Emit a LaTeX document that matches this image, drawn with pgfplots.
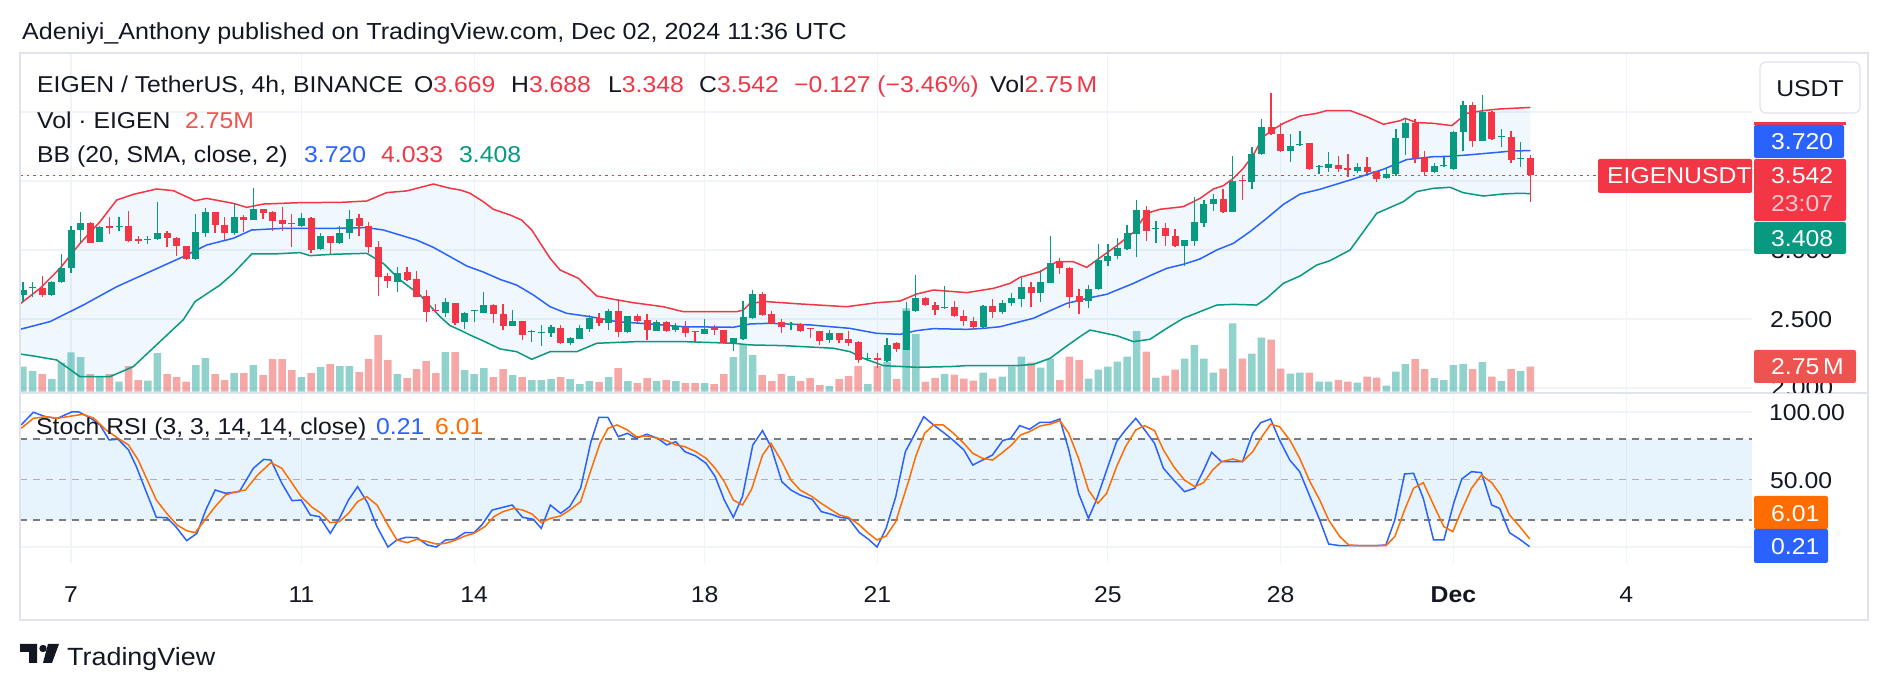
\documentclass[border=0pt]{standalone}
\usepackage{pgfplots}
\pgfplotsset{compat=1.18}
\usepackage{pgfplotstable}
\usepackage{fontspec}
\setmainfont{Liberation Sans}[FakeStretch=1.08]

\definecolor{tvtext}{HTML}{131722}
\definecolor{cgreen}{HTML}{089981}
\definecolor{cred}{HTML}{F23645}
\definecolor{vgreen}{HTML}{26A69A}
\definecolor{vred}{HTML}{EF5350}
\definecolor{bbblue}{HTML}{2962FF}
\definecolor{bbfill}{HTML}{2196F3}
\definecolor{gridc}{HTML}{F0F3FA}
\definecolor{framec}{HTML}{E0E3EB}
\definecolor{korange}{HTML}{FF6D00}
\definecolor{hlinec}{HTML}{787B86}
\definecolor{timec}{HTML}{FAC8CC}

\newcommand\tvf{\fontsize{23}{27}\selectfont}

% 4h candles, index 0 = 6 Nov 04:00 UTC; volume in millions EIGEN
\pgfplotstableread{
i O H L C V
0 2.674 2.771 2.626 2.710 2.75
1 2.722 2.771 2.662 2.732 2.27
3 2.674 2.775 2.667 2.771 1.39
4 2.771 2.969 2.759 2.867 3.19
5 2.867 3.174 2.836 3.145 4.33
6 3.145 3.273 3.044 3.193 3.81
8 3.060 3.174 3.058 3.169 1.65
10 3.164 3.242 3.138 3.174 1.10
13 3.075 3.102 3.041 3.082 1.21
14 3.077 3.345 3.075 3.121 4.25
18 2.932 3.258 2.928 3.130 2.93
19 3.126 3.307 3.097 3.273 3.70
22 3.126 3.343 3.109 3.237 2.05
24 3.217 3.447 3.215 3.295 2.93
29 3.174 3.266 3.169 3.230 1.61
31 3.005 3.121 2.998 3.102 2.71
33 3.048 3.174 3.046 3.121 2.82
34 3.121 3.290 3.080 3.222 2.82
39 2.771 2.879 2.698 2.836 1.94
44 2.541 2.650 2.512 2.626 4.36
46 2.481 2.553 2.425 2.541 2.38
47 2.556 2.566 2.481 2.563 1.94
48 2.546 2.693 2.544 2.601 2.60
51 2.452 2.565 2.450 2.486 1.83
53 2.408 2.420 2.336 2.416 1.28
54 2.396 2.457 2.307 2.406 1.28
55 2.396 2.457 2.372 2.440 1.39
57 2.324 2.367 2.312 2.360 1.39
58 2.355 2.457 2.353 2.432 0.84
59 2.428 2.529 2.408 2.510 1.17
61 2.469 2.572 2.420 2.558 1.61
63 2.403 2.524 2.401 2.522 1.17
66 2.416 2.493 2.414 2.476 1.17
68 2.420 2.469 2.403 2.452 1.17
71 2.391 2.498 2.389 2.428 0.95
74 2.329 2.362 2.271 2.360 3.81
75 2.353 2.630 2.348 2.517 5.13
76 2.510 2.710 2.498 2.679 4.03
80 2.462 2.481 2.420 2.466 1.72
84 2.348 2.420 2.329 2.396 0.62
88 2.210 2.251 2.196 2.217 0.84
90 2.198 2.360 2.191 2.312 3.26
92 2.276 2.626 2.274 2.558 9.17
93 2.558 2.819 2.553 2.655 6.34
96 2.577 2.739 2.574 2.585 1.96
100 2.440 2.601 2.432 2.594 2.09
102 2.548 2.638 2.536 2.613 1.65
103 2.613 2.691 2.597 2.650 2.75
104 2.642 2.795 2.585 2.734 3.85
106 2.686 2.855 2.626 2.771 2.64
107 2.763 3.101 2.758 2.903 3.63
111 2.630 2.746 2.577 2.715 1.43
112 2.715 3.043 2.710 2.928 2.42
113 2.923 3.043 2.886 2.959 2.75
114 2.957 3.084 2.932 3.012 3.30
115 3.007 3.181 3.000 3.121 3.85
116 3.116 3.362 2.952 3.290 6.67
118 3.152 3.210 3.053 3.159 1.54
121 3.031 3.075 2.886 3.072 3.63
122 3.068 3.386 3.031 3.200 5.13
123 3.198 3.362 3.169 3.333 3.63
124 3.331 3.406 3.285 3.367 2.09
126 3.278 3.681 3.276 3.500 7.52
128 3.495 3.744 3.440 3.696 4.18
129 3.693 3.947 3.691 3.889 5.94
132 3.720 3.841 3.635 3.756 1.98
133 3.763 3.865 3.754 3.770 2.09
135 3.604 3.616 3.548 3.611 1.10
136 3.592 3.712 3.568 3.621 1.10
139 3.572 3.633 3.556 3.599 0.99
142 3.519 3.599 3.517 3.548 0.66
143 3.548 3.874 3.536 3.809 2.20
144 3.809 3.954 3.688 3.918 3.04
147 3.568 3.628 3.556 3.611 1.50
148 3.611 3.676 3.604 3.618 1.28
149 3.587 3.862 3.580 3.853 2.93
150 3.853 4.080 3.717 4.051 3.04
152 3.792 4.123 3.790 3.998 3.26
154 3.816 3.874 3.749 3.824 1.17
156 3.659 3.785 3.604 3.667 2.27
}\up

\pgfplotstableread{
i O H L C V
2 2.722 2.812 2.657 2.674 1.94
7 3.193 3.205 3.048 3.053 1.94
9 3.176 3.242 3.116 3.157 1.94
11 3.176 3.285 3.060 3.068 2.82
12 3.077 3.102 3.044 3.068 1.28
15 3.121 3.140 3.019 3.089 1.94
16 3.089 3.092 2.959 3.029 1.61
17 3.029 3.031 2.928 2.932 1.10
20 3.273 3.278 3.121 3.181 1.94
21 3.181 3.242 3.072 3.126 1.28
23 3.237 3.254 3.133 3.217 2.05
25 3.295 3.297 3.225 3.271 1.83
26 3.278 3.280 3.140 3.213 3.59
27 3.217 3.309 3.140 3.186 3.59
28 3.196 3.261 3.019 3.188 2.38
30 3.230 3.237 2.981 3.000 2.05
32 3.102 3.104 2.964 3.048 3.04
35 3.230 3.261 3.104 3.176 2.16
36 3.176 3.205 2.976 3.019 3.59
37 3.019 3.065 2.669 2.807 6.23
38 2.814 2.831 2.722 2.778 3.48
40 2.838 2.874 2.778 2.783 1.50
41 2.790 2.848 2.660 2.662 2.49
42 2.667 2.710 2.481 2.553 3.37
43 2.565 2.609 2.541 2.558 2.05
45 2.614 2.616 2.457 2.473 4.36
49 2.601 2.609 2.469 2.536 1.61
50 2.536 2.609 2.420 2.452 2.49
52 2.486 2.488 2.348 2.384 1.61
56 2.432 2.457 2.319 2.324 1.61
60 2.505 2.541 2.452 2.469 1.06
62 2.558 2.643 2.372 2.408 2.60
64 2.522 2.536 2.469 2.486 0.95
65 2.493 2.536 2.348 2.420 1.50
67 2.481 2.488 2.408 2.416 1.28
69 2.445 2.486 2.372 2.401 0.95
70 2.411 2.413 2.336 2.403 0.95
72 2.432 2.457 2.384 2.420 0.84
73 2.420 2.422 2.316 2.324 1.94
77 2.679 2.693 2.522 2.529 1.83
78 2.536 2.560 2.464 2.469 1.17
79 2.481 2.498 2.401 2.445 1.94
81 2.462 2.469 2.408 2.416 1.17
82 2.435 2.437 2.360 2.428 1.50
83 2.413 2.415 2.312 2.341 0.73
85 2.396 2.401 2.324 2.348 1.39
86 2.355 2.413 2.307 2.324 1.72
87 2.336 2.341 2.179 2.203 2.82
89 2.215 2.256 2.143 2.203 2.82
91 2.324 2.336 2.259 2.280 1.39
94 2.655 2.657 2.597 2.601 1.08
95 2.601 2.621 2.529 2.565 1.52
97 2.585 2.633 2.517 2.522 1.87
98 2.524 2.565 2.449 2.488 1.43
99 2.488 2.517 2.425 2.440 1.21
101 2.594 2.642 2.510 2.548 1.43
105 2.734 2.766 2.585 2.686 3.19
108 2.910 2.940 2.826 2.867 1.28
109 2.872 2.879 2.577 2.662 3.85
110 2.667 2.717 2.534 2.626 3.48
117 3.290 3.319 3.068 3.138 4.40
119 3.162 3.193 3.031 3.104 1.76
120 3.104 3.150 3.024 3.029 2.42
125 3.370 3.442 3.270 3.278 2.53
127 3.507 3.536 3.362 3.497 3.63
130 3.889 4.135 3.833 3.838 5.72
131 3.838 3.918 3.708 3.717 2.53
134 3.773 3.775 3.580 3.587 2.09
137 3.616 3.684 3.563 3.587 1.28
138 3.592 3.696 3.527 3.582 1.10
140 3.599 3.672 3.551 3.568 1.65
141 3.572 3.575 3.495 3.514 1.54
145 3.918 3.947 3.633 3.664 3.59
146 3.664 3.717 3.536 3.568 2.49
151 4.051 4.070 3.749 3.790 2.49
153 4.003 4.007 3.797 3.804 1.65
155 3.821 3.862 3.633 3.652 2.49
157 3.669 3.688 3.348 3.542 2.75
}\down

\begin{document}
\begin{tikzpicture}[x=1bp,y=1bp]
\fill[white] (0,0) rectangle (1888,690);

% grid
\foreach \gx in {71,301.4,474.2,704.6,877.4,1107.8,1280.6,1453.4,1626.2}
  \draw[gridc, line width=1.3] (\gx,127) -- (\gx,637);
\foreach \gy in {578,509,440,371,302,278,143}
  \draw[gridc, line width=1.3] (20,\gy) -- (1752,\gy);

% volume
\begin{axis}[at={(20bp,297bp)}, anchor=south west, scale only axis,
  width=1732bp, height=340bp, xmin=-0.3125, xmax=180.1,
  ymin=-0.14, ymax=37.26, hide axis]
\addplot[ybar, bar shift=0pt, bar width=0.78, fill=vgreen, fill opacity=0.5, draw=none]
  table[x=i, y=V]{\up};
\addplot[ybar, bar shift=0pt, bar width=0.78, fill=vred, fill opacity=0.5, draw=none]
  table[x=i, y=V]{\down};
\end{axis}

% price: Bollinger bands (20, SMA, 2) and candles
\begin{axis}[at={(20bp,297bp)}, anchor=south west, scale only axis,
  width=1732bp, height=340bp, xmin=-0.3125, xmax=180.1,
  ymin=1.9638, ymax=4.4275, hide axis]
% band background: upper band forward, lower band back
\addplot[fill=bbfill, fill opacity=0.065, draw=none] coordinates {
(-0.31,2.609) (1.77,2.722) (3.85,2.867) (5.94,3.048) (8.02,3.205) (9.76,3.362)
(11.49,3.403) (13.92,3.442) (15.66,3.430) (17.92,3.357) (19.13,3.374) (21.91,3.338)
(23.3,3.309) (25.03,3.333) (28.85,3.343) (33.02,3.345) (35.8,3.355) (37.88,3.416)
(39.97,3.428) (42.74,3.478) (44.48,3.447) (45.52,3.435) (46.56,3.411) (47.95,3.350)
(48.99,3.295) (50.73,3.254) (51.94,3.217) (52.99,3.145) (54.9,2.940) (55.94,2.855)
(57.85,2.795) (59.76,2.667) (61.49,2.643) (63.58,2.618) (66.7,2.589) (68.78,2.553)
(74.34,2.553) (75.03,2.565) (75.73,2.614) (77.47,2.626) (80.94,2.609) (85.8,2.589)
(88.92,2.618) (91.35,2.630) (93.09,2.681) (94.83,2.710) (98.3,2.691) (101.07,2.722)
(102.81,2.758) (103.85,2.802) (105.94,2.843) (107.67,2.915) (109.41,2.915) (110.8,2.874)
(112.18,2.944) (113.92,3.031) (115.66,3.128) (117.05,3.266) (118.43,3.295) (120.86,3.314)
(122.6,3.374) (123.99,3.442) (125.03,3.466) (126.07,3.519) (127.11,3.592) (128.15,3.688)
(129.2,3.821) (130.24,3.874) (131.28,3.918) (133.02,3.971) (134.75,3.990) (135.8,4.010)
(138.23,4.010) (139.96,3.966) (141.7,3.911) (143.44,3.937) (143.96,3.954) (145.17,3.923)
(146.91,3.918) (148.82,3.901) (150.38,3.990) (152.12,4.010) (153.85,4.022) (157,4.033)
(157,3.408) (155.94,3.411) (154.2,3.406) (152.12,3.391) (150.03,3.415) (148.65,3.454)
(146.91,3.447) (145.17,3.423) (143.78,3.350) (141.01,3.266) (138.23,3.000) (136.15,2.923)
(134.76,2.891) (133.02,2.812) (131.28,2.758) (129.54,2.650) (128.5,2.601) (126.07,2.606)
(124.34,2.601) (122.6,2.553) (120.86,2.505) (119.13,2.432) (117.39,2.353) (115.66,2.336)
(113.92,2.379) (111.14,2.420) (110.1,2.372) (108.71,2.304) (106.98,2.215) (105.24,2.171)
(103.5,2.162) (98.3,2.162) (96.56,2.155) (93.09,2.150) (89.62,2.162) (87.53,2.215)
(86.15,2.263) (84.41,2.288) (79.2,2.307) (75.73,2.312) (73.99,2.324) (68.78,2.336)
(63.92,2.336) (59.76,2.324) (57.67,2.263) (54.9,2.263) (52.99,2.208) (51.42,2.263)
(49.69,2.283) (47.95,2.341) (46.56,2.384) (45.52,2.420) (44.48,2.452) (43.44,2.517)
(41.35,2.674) (39.27,2.783) (37.53,2.903) (35.8,2.976) (32.33,2.969) (29.9,2.959)
(28.85,2.981) (26.08,2.971) (23.82,2.971) (21.91,2.831) (20.52,2.746) (17.92,2.626)
(16.7,2.495) (14.27,2.336) (11.49,2.155) (9.06,2.082) (5.94,2.082) (3.51,2.203)
(1.08,2.232) (-0.31,2.246)};
% upper band
\addplot[cred, line width=1.5bp] coordinates {
(-0.31,2.609) (1.77,2.722) (3.85,2.867) (5.94,3.048) (8.02,3.205) (9.76,3.362)
(11.49,3.403) (13.92,3.442) (15.66,3.430) (17.92,3.357) (19.13,3.374) (21.91,3.338)
(23.3,3.309) (25.03,3.333) (28.85,3.343) (33.02,3.345) (35.8,3.355) (37.88,3.416)
(39.97,3.428) (42.74,3.478) (44.48,3.447) (45.52,3.435) (46.56,3.411) (47.95,3.350)
(48.99,3.295) (50.73,3.254) (51.94,3.217) (52.99,3.145) (54.9,2.940) (55.94,2.855)
(57.85,2.795) (59.76,2.667) (61.49,2.643) (63.58,2.618) (66.7,2.589) (68.78,2.553)
(74.34,2.553) (75.03,2.565) (75.73,2.614) (77.47,2.626) (80.94,2.609) (85.8,2.589)
(88.92,2.618) (91.35,2.630) (93.09,2.681) (94.83,2.710) (98.3,2.691) (101.07,2.722)
(102.81,2.758) (103.85,2.802) (105.94,2.843) (107.67,2.915) (109.41,2.915) (110.8,2.874)
(112.18,2.944) (113.92,3.031) (115.66,3.128) (117.05,3.266) (118.43,3.295) (120.86,3.314)
(122.6,3.374) (123.99,3.442) (125.03,3.466) (126.07,3.519) (127.11,3.592) (128.15,3.688)
(129.2,3.821) (130.24,3.874) (131.28,3.918) (133.02,3.971) (134.75,3.990) (135.8,4.010)
(138.23,4.010) (139.96,3.966) (141.7,3.911) (143.44,3.937) (143.96,3.954) (145.17,3.923)
(146.91,3.918) (148.82,3.901) (150.38,3.990) (152.12,4.010) (153.85,4.022) (157,4.033)};
% lower band
\addplot[cgreen, line width=1.5bp] coordinates {
(-0.31,2.246) (1.08,2.232) (3.51,2.203) (5.94,2.082) (9.06,2.082) (11.49,2.155)
(14.27,2.336) (16.7,2.495) (17.92,2.626) (20.52,2.746) (21.91,2.831) (23.82,2.971)
(26.08,2.971) (28.85,2.981) (29.9,2.959) (32.33,2.969) (35.8,2.976) (37.53,2.903)
(39.27,2.783) (41.35,2.674) (43.44,2.517) (44.48,2.452) (45.52,2.420) (46.56,2.384)
(47.95,2.341) (49.69,2.283) (51.42,2.263) (52.99,2.208) (54.9,2.263) (57.67,2.263)
(59.76,2.324) (63.92,2.336) (68.78,2.336) (73.99,2.324) (75.73,2.312) (79.2,2.307)
(84.41,2.288) (86.15,2.263) (87.53,2.215) (89.62,2.162) (93.09,2.150) (96.56,2.155)
(98.3,2.162) (103.5,2.162) (105.24,2.171) (106.98,2.215) (108.71,2.304) (110.1,2.372)
(111.14,2.420) (113.92,2.379) (115.66,2.336) (117.39,2.353) (119.13,2.432) (120.86,2.505)
(122.6,2.553) (124.34,2.601) (126.07,2.606) (128.5,2.601) (129.54,2.650) (131.28,2.758)
(133.02,2.812) (134.76,2.891) (136.15,2.923) (138.23,3.000) (141.01,3.266) (143.78,3.350)
(145.17,3.423) (146.91,3.447) (148.65,3.454) (150.03,3.415) (152.12,3.391) (154.2,3.406)
(155.94,3.411) (157,3.408)};
% basis
\addplot[bbblue, line width=1.5bp] coordinates {
(-0.31,2.425) (2.81,2.481) (6.28,2.601) (9.76,2.734) (13.23,2.843) (16.7,2.952)
(19.13,3.036) (21.91,3.085) (23.82,3.145) (27.12,3.157) (32.33,3.157) (35.8,3.162)
(37.53,3.145) (41.0,3.072) (42.74,3.019) (44.48,2.952) (46.22,2.884) (47.95,2.840)
(49.69,2.787) (51.42,2.746) (53.16,2.674) (54.9,2.589) (56.63,2.541) (59.06,2.517)
(61.84,2.481) (65.31,2.464) (68.78,2.444) (73.99,2.440) (75.73,2.464) (77.81,2.469)
(81.98,2.457) (86.15,2.432) (88.92,2.396) (91.35,2.389) (93.09,2.416) (94.83,2.430)
(98.3,2.425) (100.03,2.432) (101.77,2.444) (105.24,2.505) (106.98,2.560) (108.71,2.613)
(111.14,2.654) (112.88,2.679) (115.66,2.758) (117.39,2.814) (119.13,2.867) (120.86,2.896)
(122.6,2.935) (124.34,3.000) (126.07,3.048) (127.81,3.133) (129.54,3.229) (131.28,3.330)
(133.02,3.405) (135.1,3.440) (138.23,3.507) (141.7,3.585) (144.13,3.655) (146.91,3.676)
(148.3,3.678) (150.38,3.688) (153.16,3.705) (155.24,3.718) (157,3.720)};
% wicks
\addplot[cgreen, line width=1.3bp, quiver={u=0, v=\thisrow{H}-\thisrow{L}}]
  table[x=i, y=L]{\up};
\addplot[cred, line width=1.3bp, quiver={u=0, v=\thisrow{H}-\thisrow{L}}]
  table[x=i, y=L]{\down};
% bodies
\addplot[cgreen, line width=7bp, quiver={u=0, v=\thisrow{C}-\thisrow{O}}]
  table[x=i, y=O]{\up};
\addplot[cred, line width=7bp, quiver={u=0, v=\thisrow{C}-\thisrow{O}}]
  table[x=i, y=O]{\down};
% last price line
\draw[cred, line width=1.3bp, dash pattern=on 2.6bp off 3.9bp]
  (axis cs:-0.3125,3.542) -- (axis cs:180.1,3.542);
\end{axis}

% Stoch RSI
\begin{axis}[at={(20bp,127bp)}, anchor=south west, scale only axis,
  width=1732bp, height=170bp, xmin=-0.3125, xmax=180.1,
  ymin=-11.85, ymax=114.07, hide axis]
\fill[bbfill, fill opacity=0.1] (axis cs:-0.3125,20) rectangle (axis cs:180.1,80);
\draw[hlinec, line width=1.5bp, dash pattern=on 7bp off 6bp] (axis cs:-0.3125,80) -- (axis cs:180.1,80);
\draw[hlinec!60, line width=1.5bp, dash pattern=on 7bp off 6bp] (axis cs:-0.3125,50) -- (axis cs:180.1,50);
\draw[hlinec, line width=1.5bp, dash pattern=on 7bp off 6bp] (axis cs:-0.3125,20) -- (axis cs:180.1,20);
\addplot[bbblue, line width=1.5bp] coordinates {
(-0.19,90.4) (1.08,99.8) (2.34,96.5) (3.60,95.3) (5.05,100) (5.81,100) (7.07,95.3)
(8.02,90.4) (8.97,79.3) (9.91,79.8) (10.99,71.9) (11.81,59.5) (12.76,42.2) (13.89,22.0)
(14.97,21.7) (15.91,15.1) (17.05,4.7) (18.12,10.1) (19.07,27.9) (20.02,42.2) (21.09,39.8)
(22.54,41.0) (23.99,58.3) (25.07,64.9) (25.82,64.4) (26.96,47.2) (28.03,34.3) (28.98,34.8)
(29.93,23.7) (30.87,22.5) (32.01,10.1) (32.96,21.2) (33.90,34.8) (34.85,44.7) (35.92,32.3)
(36.87,15.1) (38.01,0) (38.95,5.2) (39.90,7.2) (41.04,6.9) (42.11,1.5) (43.06,0)
(44.01,5.2) (44.95,5.7) (46.03,10.6) (46.97,10.6) (47.79,16.3) (48.87,27.4) (50.00,29.4)
(50.95,31.1) (52.03,22.0) (53.16,20.5) (53.98,13.8) (54.93,31.1) (56.00,24.9) (56.95,29.9)
(58.08,43.5) (59.16,78.0) (59.98,96.0) (60.93,96.0) (62.00,81.7) (62.95,84.2) (63.89,80.5)
(64.97,83.5) (66.10,80.5) (67.05,75.6) (68.00,78.0) (68.94,70.6) (70.08,67.4) (71.15,62.0)
(72.10,52.1) (73.05,34.8) (73.99,22.0) (74.94,37.3) (76.02,75.6) (77.03,86.2) (77.91,74.3)
(79.04,48.4) (79.99,42.2) (80.94,38.5) (82.20,35.3) (83.15,26.2) (84.22,24.2) (85.04,22.0)
(85.99,21.2) (87.13,10.6) (88.07,5.7) (88.96,0) (89.90,13.8) (90.91,37.3) (91.91,70.6)
(92.74,81.7) (93.82,96.5) (94.84,90.4) (96.00,84.2) (96.93,78.8) (98.00,71.9) (98.93,60.7)
(99.95,64.4) (100.98,68.1) (102.05,78.8) (102.88,80.5) (103.82,89.9) (104.84,87.2)
(105.91,92.3) (107.02,92.3) (108.0,94.8) (108.93,71.9) (109.95,39.8) (110.98,21.2)
(111.81,34.8) (112.88,57.0) (113.91,78.0) (114.84,86.7) (115.91,95.3) (116.84,86.7)
(117.86,76.8) (118.79,58.3) (119.86,49.6) (120.98,41.0) (122.05,43.5) (122.98,57.0)
(123.81,70.1) (124.84,63.2) (126.0,63.2) (127.02,63.2) (128.09,84.2) (128.93,92.1)
(129.95,94.8) (130.88,79.3) (131.95,64.4) (132.98,55.8) (134.05,37.3) (135.07,20.0)
(136.0,2.2) (137.16,1.0) (138.09,1.0) (139.26,1.0) (140.88,1.0) (141.96,1.5) (142.89,20.0)
(143.91,54.1) (144.84,54.6) (145.86,36.0) (146.93,5.2) (148.0,5.2) (149.02,32.3)
(149.86,50.4) (150.88,55.8) (151.91,55.1) (152.98,31.1) (153.81,28.6) (154.84,10.6)
(155.91,5.7) (156.93,0.21)};
\addplot[korange, line width=1.5bp] coordinates {
(-0.19,87.9) (1.08,95.3) (2.34,96.5) (3.60,95.3) (5.05,97.0) (6.25,98.3) (7.39,95.3)
(8.65,86.7) (9.91,80.5) (10.99,75.6) (12.00,64.4) (12.94,49.6) (13.89,34.8) (14.97,24.9)
(16.04,16.3) (17.05,12.1) (17.93,10.6) (19.07,21.2) (20.02,29.9) (21.09,38.5) (22.22,41.0)
(23.17,42.2) (24.43,53.3) (25.82,62.5) (26.96,58.3) (28.03,47.2) (28.98,37.3) (30.12,29.4)
(31.06,24.9) (32.01,18.0) (32.96,18.8) (33.90,24.9) (34.85,33.6) (35.80,37.3) (36.87,31.1)
(38.01,16.3) (38.95,5.2) (40.03,3.2) (41.04,5.7) (42.11,4.0) (43.06,2.2) (44.01,2.7)
(45.08,5.2) (46.03,8.1) (46.97,10.1) (48.11,15.1) (49.06,22.5) (50.00,26.2) (51.14,28.6)
(52.03,27.4) (53.03,24.4) (53.98,18.0) (54.93,21.2) (56.00,23.0) (56.95,27.4) (58.08,33.6)
(59.16,57.0) (60.10,76.8) (60.93,87.9) (61.87,90.4) (62.95,86.7) (63.89,81.7) (64.97,82.2)
(66.10,80.5) (67.05,78.8) (68.00,75.6) (68.94,74.3) (70.08,70.6) (71.15,65.7) (72.10,58.3)
(73.05,48.4) (73.99,34.8) (74.94,31.1) (75.89,42.7) (77.03,68.1) (77.91,76.8) (79.04,63.2)
(79.99,49.6) (80.94,42.2) (82.20,37.3) (83.15,32.3) (84.22,27.4) (85.04,23.7) (85.99,22.0)
(87.13,16.3) (88.07,10.1) (88.96,5.2) (89.90,8.1) (90.91,18.8) (92.28,49.6) (92.98,66.9)
(93.91,84.2) (94.84,90.4) (95.86,90.4) (96.93,84.2) (98.0,76.8) (98.93,69.4) (99.95,65.7)
(100.98,64.4) (102.05,70.1) (102.98,75.6) (103.91,83.0) (104.84,85.4) (105.91,89.6)
(107.02,91.1) (108.0,93.6) (108.93,84.2) (109.95,65.7) (110.98,42.2) (111.95,32.3)
(112.88,39.8) (113.91,59.5) (114.84,74.3) (115.91,86.7) (116.84,89.9) (117.86,86.2)
(118.79,71.9) (119.86,59.5) (120.98,49.6) (122.05,44.7) (122.98,47.7) (123.91,57.0)
(124.84,63.2) (126.0,65.2) (127.02,63.2) (128.09,70.6) (128.93,80.5) (129.95,90.9)
(130.88,89.1) (131.95,79.3) (132.98,65.7) (134.05,48.4) (135.07,34.8) (136.0,20.0)
(137.16,7.7) (138.09,1.5) (139.26,1.0) (140.88,1.0) (141.96,1.0) (142.89,7.7) (143.91,27.4)
(144.84,43.5) (145.86,47.7) (146.93,31.1) (148.0,15.1) (148.93,11.4) (149.86,27.4)
(150.88,43.5) (151.91,53.3) (152.98,47.7) (153.91,38.5) (154.84,23.7) (155.91,15.1)
(156.93,6.01)};
\end{axis}

% frame and pane separator
\draw[framec, line width=1.5] (20,70) rectangle (1868,637);
\draw[framec, line width=2.2] (20,297) -- (1868,297);

% header texts
\begin{scope}[every node/.style={anchor=base west, inner sep=0, text=tvtext, font=\tvf}]
\node[font=\fontsize{23.3}{27}\selectfont] at (22,650) {Adeniyi\_Anthony published on TradingView.com, Dec 02, 2024 11:36 UTC};
\node at (37,597) {EIGEN / TetherUS, 4h, BINANCE};
\node at (414,597) {O\textcolor{cred}{3.669}};
\node at (511,597) {H\textcolor{cred}{3.688}};
\node at (608,597) {L\textcolor{cred}{3.348}};
\node at (699,597) {C\textcolor{cred}{3.542}};
\node at (794,597) {\textcolor{cred}{−0.127 (−3.46\%)}};
\node at (990,597) {Vol\textcolor{cred}{2.75\,M}};
\node at (37,561) {Vol · EIGEN};
\node at (185,561) {\textcolor{vred}{2.75M}};
\node at (37,527) {BB (20, SMA, close, 2)};
\node at (304,527) {\textcolor{bbblue}{3.720}};
\node at (381,527) {\textcolor{cred}{4.033}};
\node at (459,527) {\textcolor{cgreen}{3.408}};
\node at (36,255) {Stoch RSI (3, 3, 14, 14, close)};
\node at (376,255) {\textcolor{bbblue}{0.21}};
\node at (435,255) {\textcolor{korange}{6.01}};
% price scale
\node at (1770,362) {2.500};
\node at (1769,269) {100.00};
\node at (1770,201) {50.00};
\end{scope}
% scale values partly covered by the value tags
\begin{scope}
\clip (1752,420) rectangle (1888,436);
\node[anchor=base west, inner sep=0, text=tvtext, font=\tvf] at (1771,431) {3.000};
\end{scope}
\begin{scope}
\clip (1752,297) rectangle (1888,307);
\node[anchor=base west, inner sep=0, text=tvtext, font=\tvf] at (1771,294) {2.000};
\end{scope}

% time scale
\begin{scope}[every node/.style={anchor=base, inner sep=0, text=tvtext, font=\tvf}]
\node at (71,87) {7};
\node at (301.4,87) {11};
\node at (474.2,87) {14};
\node at (704.6,87) {18};
\node at (877.4,87) {21};
\node at (1107.8,87) {25};
\node at (1280.6,87) {28};
\node at (1453.4,87) {\bfseries Dec};
\node at (1626.2,87) {4};
\end{scope}

% value tags on the price scale
\fill[white, draw=framec, line width=1.2, rounded corners=6] (1760,577) rectangle (1860,628);
\node[anchor=base, inner sep=0, text=tvtext, font=\tvf] at (1810,593) {USDT};
\fill[cred] (1754,564.5) rectangle (1846,567.5);
\fill[bbblue, rounded corners=2] (1754,532) rectangle (1844,565);
\fill[cred, rounded corners=2] (1754,469) rectangle (1846,531);
\fill[cgreen, rounded corners=2] (1754,436) rectangle (1846,468);
\fill[cred, rounded corners=2] (1598,497) rectangle (1752,531);
\fill[vred, rounded corners=2] (1754,307) rectangle (1856,340);
\fill[korange, rounded corners=2] (1754,161) rectangle (1828,194);
\fill[bbblue, rounded corners=2] (1754,127) rectangle (1828,161);
\begin{scope}[every node/.style={anchor=base west, inner sep=0, text=white, font=\tvf}]
\node at (1771,540) {3.720};
\node at (1771,506) {3.542};
\node[text=timec] at (1771,478) {23:07};
\node at (1771,443) {3.408};
\node at (1607,506) {EIGENUSDT};
\node at (1771,315) {2.75\,M};
\node at (1771,168) {6.01};
\node at (1771,135) {0.21};
\end{scope}

% footer logo and name
\fill[tvtext] (20,46) -- (37,46) -- (37,27) -- (29,27) -- (29,38) -- (20,38) -- cycle;
\fill[tvtext] (43,41.5) circle (3.7);
\fill[tvtext] (43,27) -- (52,27) -- (59,46) -- (48,46) -- cycle;
\node[anchor=base west, inner sep=0, text=tvtext, font=\fontsize{25}{29}\selectfont] at (67,24) {TradingView};
\end{tikzpicture}
\end{document}
